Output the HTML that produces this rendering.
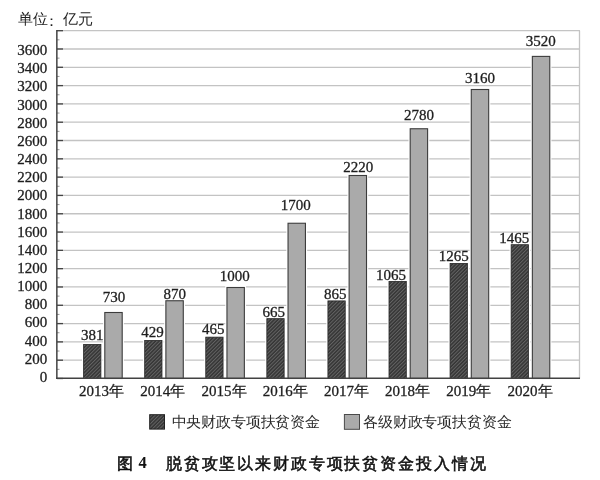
<!DOCTYPE html>
<html><head><meta charset="utf-8">
<style>
html,body{margin:0;padding:0;background:#fff;width:600px;height:480px;overflow:hidden}
svg{position:absolute;left:0;top:0;will-change:transform}
.n{font-family:"Liberation Serif",serif;font-size:15px;fill:#1e1e1e;stroke:#1e1e1e;stroke-width:0.3px}
.u{font-family:"Liberation Serif",serif;font-size:14.6px;fill:#1e1e1e}
.lg{font-family:"Liberation Serif",serif;font-size:15px;letter-spacing:-0.15px;fill:#2a2a2a}
.cap{font-family:"Liberation Sans",sans-serif;font-size:16px;font-weight:normal;fill:#111;stroke:#111;stroke-width:0.55px}
</style></head><body>
<svg width="600" height="480" viewBox="0 0 600 480">
<defs>
<pattern id="hatch" patternUnits="userSpaceOnUse" x="0" y="0" width="2.55" height="10" patternTransform="rotate(45)">
<rect width="2.55" height="10" fill="#353535"/>
<rect x="0" y="0" width="1.0" height="10" fill="#646464"/>
</pattern>
</defs>
<text x="17.8" y="23.9" class="u">单位</text><text x="44" y="25.9" class="u">：</text><text x="63" y="23.9" class="u">亿元</text>
<line x1="57" x2="579.5" y1="360.19" y2="360.19" stroke="#c3c3c3" stroke-width="1.3"/>
<line x1="57" x2="579.5" y1="341.89" y2="341.89" stroke="#c3c3c3" stroke-width="1.3"/>
<line x1="57" x2="579.5" y1="323.58" y2="323.58" stroke="#c3c3c3" stroke-width="1.3"/>
<line x1="57" x2="579.5" y1="305.28" y2="305.28" stroke="#c3c3c3" stroke-width="1.3"/>
<line x1="57" x2="579.5" y1="286.97" y2="286.97" stroke="#c3c3c3" stroke-width="1.3"/>
<line x1="57" x2="579.5" y1="268.66" y2="268.66" stroke="#c3c3c3" stroke-width="1.3"/>
<line x1="57" x2="579.5" y1="250.36" y2="250.36" stroke="#c3c3c3" stroke-width="1.3"/>
<line x1="57" x2="579.5" y1="232.05" y2="232.05" stroke="#c3c3c3" stroke-width="1.3"/>
<line x1="57" x2="579.5" y1="213.75" y2="213.75" stroke="#c3c3c3" stroke-width="1.3"/>
<line x1="57" x2="579.5" y1="195.44" y2="195.44" stroke="#c3c3c3" stroke-width="1.3"/>
<line x1="57" x2="579.5" y1="177.13" y2="177.13" stroke="#c3c3c3" stroke-width="1.3"/>
<line x1="57" x2="579.5" y1="158.83" y2="158.83" stroke="#c3c3c3" stroke-width="1.3"/>
<line x1="57" x2="579.5" y1="140.52" y2="140.52" stroke="#c3c3c3" stroke-width="1.3"/>
<line x1="57" x2="579.5" y1="122.22" y2="122.22" stroke="#c3c3c3" stroke-width="1.3"/>
<line x1="57" x2="579.5" y1="103.91" y2="103.91" stroke="#c3c3c3" stroke-width="1.3"/>
<line x1="57" x2="579.5" y1="85.60" y2="85.60" stroke="#c3c3c3" stroke-width="1.3"/>
<line x1="57" x2="579.5" y1="67.30" y2="67.30" stroke="#c3c3c3" stroke-width="1.3"/>
<line x1="57" x2="579.5" y1="48.99" y2="48.99" stroke="#c3c3c3" stroke-width="1.3"/>
<line x1="57" x2="580" y1="30.69" y2="30.69" stroke="#c4c4c4" stroke-width="1.3"/>
<line x1="579.5" x2="579.5" y1="30.69" y2="378.5" stroke="#c4c4c4" stroke-width="1.3"/>
<rect x="82.00" y="342.80" width="20.50" height="35.70" fill="#fff"/>
<rect x="103.10" y="310.80" width="20.80" height="67.70" fill="#fff"/>
<rect x="83.60" y="344.40" width="17.30" height="34.10" fill="url(#hatch)" stroke="#262626" stroke-width="0.8"/>
<rect x="104.80" y="312.50" width="17.40" height="66.00" fill="#aaaaaa" stroke="#3c3c3c" stroke-width="1.1"/>
<rect x="143.08" y="338.80" width="20.50" height="39.70" fill="#fff"/>
<rect x="164.18" y="299.05" width="20.80" height="79.45" fill="#fff"/>
<rect x="144.68" y="340.40" width="17.30" height="38.10" fill="url(#hatch)" stroke="#262626" stroke-width="0.8"/>
<rect x="165.88" y="300.75" width="17.40" height="77.75" fill="#aaaaaa" stroke="#3c3c3c" stroke-width="1.1"/>
<rect x="204.16" y="335.55" width="20.50" height="42.95" fill="#fff"/>
<rect x="225.26" y="285.80" width="20.80" height="92.70" fill="#fff"/>
<rect x="205.76" y="337.15" width="17.30" height="41.35" fill="url(#hatch)" stroke="#262626" stroke-width="0.8"/>
<rect x="226.96" y="287.50" width="17.40" height="91.00" fill="#aaaaaa" stroke="#3c3c3c" stroke-width="1.1"/>
<rect x="265.24" y="317.05" width="20.50" height="61.45" fill="#fff"/>
<rect x="286.34" y="221.55" width="20.80" height="156.95" fill="#fff"/>
<rect x="266.84" y="318.65" width="17.30" height="59.85" fill="url(#hatch)" stroke="#262626" stroke-width="0.8"/>
<rect x="288.04" y="223.25" width="17.40" height="155.25" fill="#aaaaaa" stroke="#3c3c3c" stroke-width="1.1"/>
<rect x="326.32" y="299.30" width="20.50" height="79.20" fill="#fff"/>
<rect x="347.42" y="173.80" width="20.80" height="204.70" fill="#fff"/>
<rect x="327.92" y="300.90" width="17.30" height="77.60" fill="url(#hatch)" stroke="#262626" stroke-width="0.8"/>
<rect x="349.12" y="175.50" width="17.40" height="203.00" fill="#aaaaaa" stroke="#3c3c3c" stroke-width="1.1"/>
<rect x="387.40" y="279.80" width="20.50" height="98.70" fill="#fff"/>
<rect x="408.50" y="127.05" width="20.80" height="251.45" fill="#fff"/>
<rect x="389.00" y="281.40" width="17.30" height="97.10" fill="url(#hatch)" stroke="#262626" stroke-width="0.8"/>
<rect x="410.20" y="128.75" width="17.40" height="249.75" fill="#aaaaaa" stroke="#3c3c3c" stroke-width="1.1"/>
<rect x="448.48" y="261.80" width="20.50" height="116.70" fill="#fff"/>
<rect x="469.58" y="87.80" width="20.80" height="290.70" fill="#fff"/>
<rect x="450.08" y="263.40" width="17.30" height="115.10" fill="url(#hatch)" stroke="#262626" stroke-width="0.8"/>
<rect x="471.28" y="89.50" width="17.40" height="289.00" fill="#aaaaaa" stroke="#3c3c3c" stroke-width="1.1"/>
<rect x="509.56" y="243.10" width="20.50" height="135.40" fill="#fff"/>
<rect x="530.66" y="54.70" width="20.80" height="323.80" fill="#fff"/>
<rect x="511.16" y="244.70" width="17.30" height="133.80" fill="url(#hatch)" stroke="#262626" stroke-width="0.8"/>
<rect x="532.36" y="56.40" width="17.40" height="322.10" fill="#aaaaaa" stroke="#3c3c3c" stroke-width="1.1"/>
<line x1="57" x2="63" y1="378.50" y2="378.50" stroke="#444" stroke-width="1.3"/>
<line x1="57" x2="63" y1="360.19" y2="360.19" stroke="#444" stroke-width="1.3"/>
<line x1="57" x2="63" y1="341.89" y2="341.89" stroke="#444" stroke-width="1.3"/>
<line x1="57" x2="63" y1="323.58" y2="323.58" stroke="#444" stroke-width="1.3"/>
<line x1="57" x2="63" y1="305.28" y2="305.28" stroke="#444" stroke-width="1.3"/>
<line x1="57" x2="63" y1="286.97" y2="286.97" stroke="#444" stroke-width="1.3"/>
<line x1="57" x2="63" y1="268.66" y2="268.66" stroke="#444" stroke-width="1.3"/>
<line x1="57" x2="63" y1="250.36" y2="250.36" stroke="#444" stroke-width="1.3"/>
<line x1="57" x2="63" y1="232.05" y2="232.05" stroke="#444" stroke-width="1.3"/>
<line x1="57" x2="63" y1="213.75" y2="213.75" stroke="#444" stroke-width="1.3"/>
<line x1="57" x2="63" y1="195.44" y2="195.44" stroke="#444" stroke-width="1.3"/>
<line x1="57" x2="63" y1="177.13" y2="177.13" stroke="#444" stroke-width="1.3"/>
<line x1="57" x2="63" y1="158.83" y2="158.83" stroke="#444" stroke-width="1.3"/>
<line x1="57" x2="63" y1="140.52" y2="140.52" stroke="#444" stroke-width="1.3"/>
<line x1="57" x2="63" y1="122.22" y2="122.22" stroke="#444" stroke-width="1.3"/>
<line x1="57" x2="63" y1="103.91" y2="103.91" stroke="#444" stroke-width="1.3"/>
<line x1="57" x2="63" y1="85.60" y2="85.60" stroke="#444" stroke-width="1.3"/>
<line x1="57" x2="63" y1="67.30" y2="67.30" stroke="#444" stroke-width="1.3"/>
<line x1="57" x2="63" y1="48.99" y2="48.99" stroke="#444" stroke-width="1.3"/>
<line x1="57" x2="63" y1="30.69" y2="30.69" stroke="#444" stroke-width="1.3"/>
<line x1="57" x2="59.5" y1="369.35" y2="369.35" stroke="#999" stroke-width="1"/>
<line x1="57" x2="59.5" y1="351.04" y2="351.04" stroke="#999" stroke-width="1"/>
<line x1="57" x2="59.5" y1="332.74" y2="332.74" stroke="#999" stroke-width="1"/>
<line x1="57" x2="59.5" y1="314.43" y2="314.43" stroke="#999" stroke-width="1"/>
<line x1="57" x2="59.5" y1="296.12" y2="296.12" stroke="#999" stroke-width="1"/>
<line x1="57" x2="59.5" y1="277.82" y2="277.82" stroke="#999" stroke-width="1"/>
<line x1="57" x2="59.5" y1="259.51" y2="259.51" stroke="#999" stroke-width="1"/>
<line x1="57" x2="59.5" y1="241.21" y2="241.21" stroke="#999" stroke-width="1"/>
<line x1="57" x2="59.5" y1="222.90" y2="222.90" stroke="#999" stroke-width="1"/>
<line x1="57" x2="59.5" y1="204.59" y2="204.59" stroke="#999" stroke-width="1"/>
<line x1="57" x2="59.5" y1="186.29" y2="186.29" stroke="#999" stroke-width="1"/>
<line x1="57" x2="59.5" y1="167.98" y2="167.98" stroke="#999" stroke-width="1"/>
<line x1="57" x2="59.5" y1="149.68" y2="149.68" stroke="#999" stroke-width="1"/>
<line x1="57" x2="59.5" y1="131.37" y2="131.37" stroke="#999" stroke-width="1"/>
<line x1="57" x2="59.5" y1="113.06" y2="113.06" stroke="#999" stroke-width="1"/>
<line x1="57" x2="59.5" y1="94.76" y2="94.76" stroke="#999" stroke-width="1"/>
<line x1="57" x2="59.5" y1="76.45" y2="76.45" stroke="#999" stroke-width="1"/>
<line x1="57" x2="59.5" y1="58.14" y2="58.14" stroke="#999" stroke-width="1"/>
<line x1="57" x2="59.5" y1="39.84" y2="39.84" stroke="#999" stroke-width="1"/>
<line x1="56.85" x2="56.85" y1="30.09" y2="379" stroke="#424242" stroke-width="1.5"/>
<line x1="56.1" x2="580" y1="378.25" y2="378.25" stroke="#424242" stroke-width="1.5"/>
<text x="47.2" y="381.90" text-anchor="end" class="n">0</text>
<text x="47.2" y="363.74" text-anchor="end" class="n">200</text>
<text x="47.2" y="345.59" text-anchor="end" class="n">400</text>
<text x="47.2" y="327.43" text-anchor="end" class="n">600</text>
<text x="47.2" y="309.28" text-anchor="end" class="n">800</text>
<text x="47.2" y="291.12" text-anchor="end" class="n">1000</text>
<text x="47.2" y="272.96" text-anchor="end" class="n">1200</text>
<text x="47.2" y="254.81" text-anchor="end" class="n">1400</text>
<text x="47.2" y="236.65" text-anchor="end" class="n">1600</text>
<text x="47.2" y="218.50" text-anchor="end" class="n">1800</text>
<text x="47.2" y="200.34" text-anchor="end" class="n">2000</text>
<text x="47.2" y="182.18" text-anchor="end" class="n">2200</text>
<text x="47.2" y="164.03" text-anchor="end" class="n">2400</text>
<text x="47.2" y="145.87" text-anchor="end" class="n">2600</text>
<text x="47.2" y="127.72" text-anchor="end" class="n">2800</text>
<text x="47.2" y="109.56" text-anchor="end" class="n">3000</text>
<text x="47.2" y="91.40" text-anchor="end" class="n">3200</text>
<text x="47.2" y="73.25" text-anchor="end" class="n">3400</text>
<text x="47.2" y="55.09" text-anchor="end" class="n">3600</text>
<text x="92.20" y="340.00" text-anchor="middle" class="n">381</text>
<text x="114.10" y="301.80" text-anchor="middle" class="n">730</text>
<text x="152.40" y="337.00" text-anchor="middle" class="n">429</text>
<text x="174.80" y="299.00" text-anchor="middle" class="n">870</text>
<text x="213.35" y="334.20" text-anchor="middle" class="n">465</text>
<text x="234.75" y="281.30" text-anchor="middle" class="n">1000</text>
<text x="273.75" y="317.00" text-anchor="middle" class="n">665</text>
<text x="295.80" y="209.50" text-anchor="middle" class="n">1700</text>
<text x="335.15" y="299.00" text-anchor="middle" class="n">865</text>
<text x="358.25" y="172.20" text-anchor="middle" class="n">2220</text>
<text x="391.10" y="279.50" text-anchor="middle" class="n">1065</text>
<text x="418.90" y="119.50" text-anchor="middle" class="n">2780</text>
<text x="453.65" y="261.20" text-anchor="middle" class="n">1265</text>
<text x="479.90" y="83.20" text-anchor="middle" class="n">3160</text>
<text x="514.20" y="243.00" text-anchor="middle" class="n">1465</text>
<text x="540.65" y="45.50" text-anchor="middle" class="n">3520</text>
<text x="101.60" y="396.3" text-anchor="middle" class="n">2013年</text>
<text x="162.80" y="396.3" text-anchor="middle" class="n">2014年</text>
<text x="224.00" y="396.3" text-anchor="middle" class="n">2015年</text>
<text x="285.20" y="396.3" text-anchor="middle" class="n">2016年</text>
<text x="346.40" y="396.3" text-anchor="middle" class="n">2017年</text>
<text x="407.60" y="396.3" text-anchor="middle" class="n">2018年</text>
<text x="468.80" y="396.3" text-anchor="middle" class="n">2019年</text>
<text x="530.00" y="396.3" text-anchor="middle" class="n">2020年</text>
<rect x="149.7" y="414.7" width="14.8" height="14.4" fill="url(#hatch)" stroke="#222" stroke-width="1"/>
<text x="171.5" y="427.3" class="lg">中央财政专项扶贫资金</text>
<rect x="344.4" y="414.5" width="15.1" height="14.8" fill="#aaaaaa" stroke="#4a4a4a" stroke-width="1"/>
<text x="363" y="427.3" class="lg">各级财政专项扶贫资金</text>
<text x="117.3" y="468.5" class="cap">图</text><text x="138.6" y="468.2" style="font-family:'Liberation Serif',serif;font-size:16.5px;font-weight:bold;fill:#111">4</text>
<text x="165.8" y="468.8" class="cap" style="letter-spacing:1.87px">脱贫攻坚以来财政专项扶贫资金投入情况</text>
</svg>
</body></html>
